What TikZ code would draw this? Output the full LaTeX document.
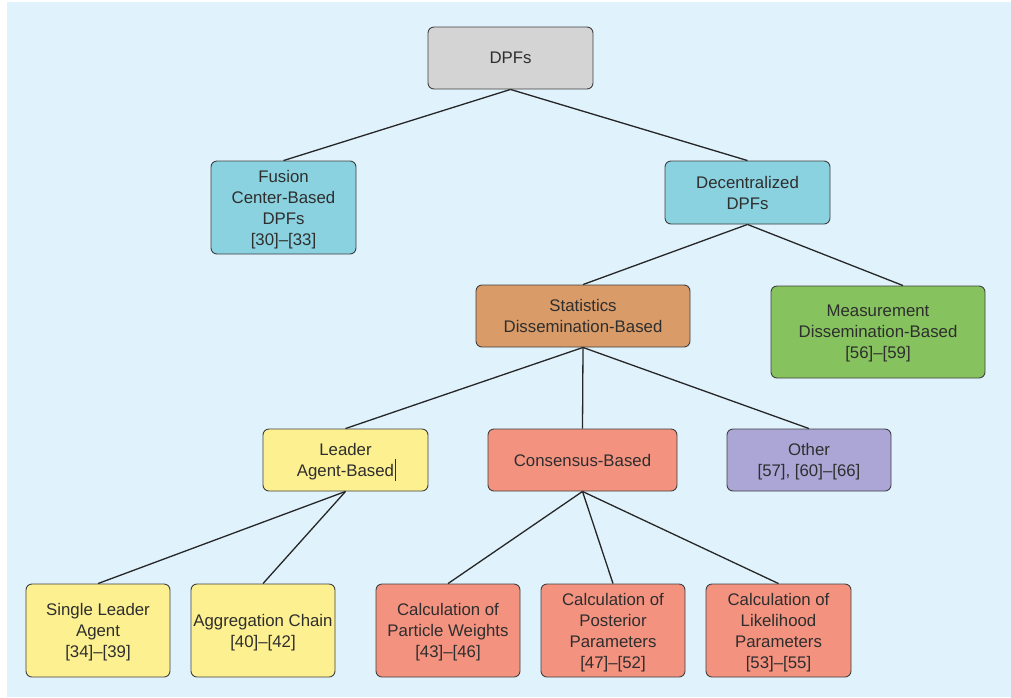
\documentclass[tikz,border=0pt]{standalone}
\usepackage{fontspec}
\setmainfont{Liberation Sans}
\begin{document}
\begin{tikzpicture}[x=1pt,y=-1pt,
  box/.style={draw=black!75, line width=0.9pt, rounded corners=6pt, align=center,
    inner sep=0pt, text=black!82, text depth=-2pt,
    font=\fontsize{16.8}{21}\selectfont},
  link/.style={draw=black!85, line width=1.3pt},
]
\definecolor{bgblue}{RGB}{224,242,252}
\definecolor{cgray}{RGB}{212,212,212}
\definecolor{cteal}{RGB}{139,210,224}
\definecolor{corange}{RGB}{217,155,104}
\definecolor{cgreen}{RGB}{134,195,94}
\definecolor{cyellow}{RGB}{253,240,144}
\definecolor{csalmon}{RGB}{244,146,128}
\definecolor{cpurple}{RGB}{172,166,214}

\useasboundingbox (0,0) rectangle (1011,697);
\fill[white] (0,0) rectangle (1011,697);
\fill[bgblue] (7,2) rectangle (1011,697);

% level 0
\node[box, fill=cgray, minimum width=165pt, minimum height=62pt] (root) at (510.5,58) {DPFs};
% level 1
\node[box, fill=cteal, minimum width=145pt, minimum height=93pt] (fusion) at (283.5,207.5)
  {Fusion\\Center-Based\\DPFs\\{[30]--[33]}};
\node[box, fill=cteal, minimum width=165pt, minimum height=63pt] (decen) at (747.5,192.5)
  {Decentralized\\DPFs};
% level 2
\node[box, fill=corange, minimum width=214pt, minimum height=62pt] (stat) at (583,316)
  {Statistics\\Dissemination-Based};
\node[box, fill=cgreen, minimum width=214pt, minimum height=92pt] (meas) at (878,332)
  {Measurement\\Dissemination-Based\\{[56]--[59]}};
% level 3
\node[box, fill=cyellow, minimum width=165pt, minimum height=62pt] (leader) at (345.5,460)
  {Leader\\Agent-Based\rlap{\hspace{0.5pt}\rule[-4pt]{1.2pt}{22pt}}};
\node[box, fill=csalmon, minimum width=189pt, minimum height=62pt] (cons) at (582.5,460)
  {Consensus-Based};
\node[box, fill=cpurple, minimum width=164pt, minimum height=62pt] (other) at (809,460)
  {Other\\{[57], [60]--[66]}};
% level 4
\node[box, fill=cyellow, minimum width=144pt, minimum height=93pt] (single) at (98,630.5)
  {Single Leader\\Agent\\{[34]--[39]}};
\node[box, fill=cyellow, minimum width=144pt, minimum height=93pt] (aggr) at (263,630.5)
  {Aggregation Chain\\{[40]--[42]}};
\node[box, fill=csalmon, minimum width=144pt, minimum height=93pt] (weights) at (448,630.5)
  {Calculation of\\Particle Weights\\{[43]--[46]}};
\node[box, fill=csalmon, minimum width=144pt, minimum height=93pt] (post) at (613,630.5)
  {Calculation of\\Posterior\\Parameters\\{[47]--[52]}};
\node[box, fill=csalmon, minimum width=145pt, minimum height=93pt] (lik) at (778.5,630.5)
  {Calculation of\\Likelihood\\Parameters\\{[53]--[55]}};

% connectors
\draw[link] (root.south) -- (fusion.north);
\draw[link] (root.south) -- (decen.north);
\draw[link] (decen.south) -- (stat.north);
\draw[link] (decen.south) -- ([xshift=25pt]meas.north);
\draw[link] (stat.south) -- (leader.north);
\draw[link] (stat.south) -- (cons.north);
\draw[link] (stat.south) -- (other.north);
\draw[link] (leader.south) -- (single.north);
\draw[link] (leader.south) -- (aggr.north);
\draw[link] (cons.south) -- (weights.north);
\draw[link] (cons.south) -- (post.north);
\draw[link] (cons.south) -- (lik.north);
\end{tikzpicture}
\end{document}
